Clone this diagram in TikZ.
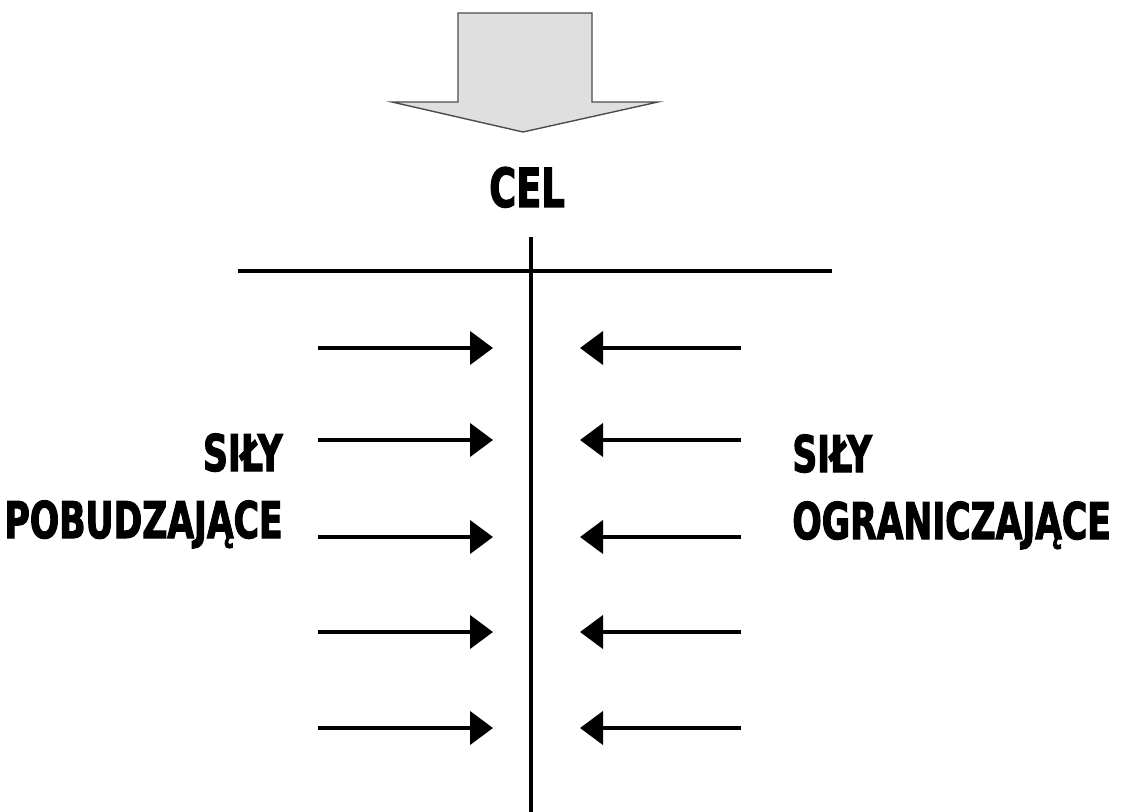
\documentclass[tikz,border=0pt]{standalone}
\usepackage{fontspec}
\newfontfamily\labelfont[FakeStretch=0.68,FakeBold=2]{DejaVu Sans}
\usetikzlibrary{arrows.meta}

\begin{document}
\begin{tikzpicture}[x=0.5pt,y=-0.5pt,
  force/.style={line width=2.1pt,-{Triangle[length=11.5pt,width=16.5pt]}},
  sidetext/.style={font=\labelfont\bfseries\fontsize{25.4}{33.5}\selectfont,inner sep=0pt}]
  \useasboundingbox (0,0) rectangle (1122,812);
  \draw[gray!60!black,fill=gray!25,line width=0.7pt] (458,13) -- (592,13) -- (592,102)
    -- (658,102) -- (523,132) -- (392,102) -- (458,102) -- cycle;
  \node[sidetext,font=\labelfont\bfseries\fontsize{27}{33}\selectfont,anchor=base] (goal) at (527,207) {CEL};
  \coordinate (axistop) at (531,237);
  \coordinate (axisbot) at (531,812);
  \coordinate (barleft) at (238,271);
  \coordinate (barright) at (832,271);
  \draw[line width=1.6pt] (axistop) -- (axisbot);
  \draw[line width=2pt] (barleft) -- (barright);
  \foreach \y [count=\i] in {348,440,537,632,728} {
    \coordinate (drivefrom\i) at (318,\y);
    \coordinate (driveto\i) at (493,\y);
    \coordinate (holdfrom\i) at (741,\y);
    \coordinate (holdto\i) at (580,\y);
    \draw[force] (drivefrom\i) -- (driveto\i);
    \draw[force] (holdfrom\i) -- (holdto\i);
  }
  \node[sidetext,align=right,anchor=north east] (drive) at (283,433) {SIŁY\\POBUDZAJĄCE};
  \node[sidetext,align=left,anchor=north west] (hold) at (792,434) {SIŁY\\OGRANICZAJĄCE};
\end{tikzpicture}
\end{document}
